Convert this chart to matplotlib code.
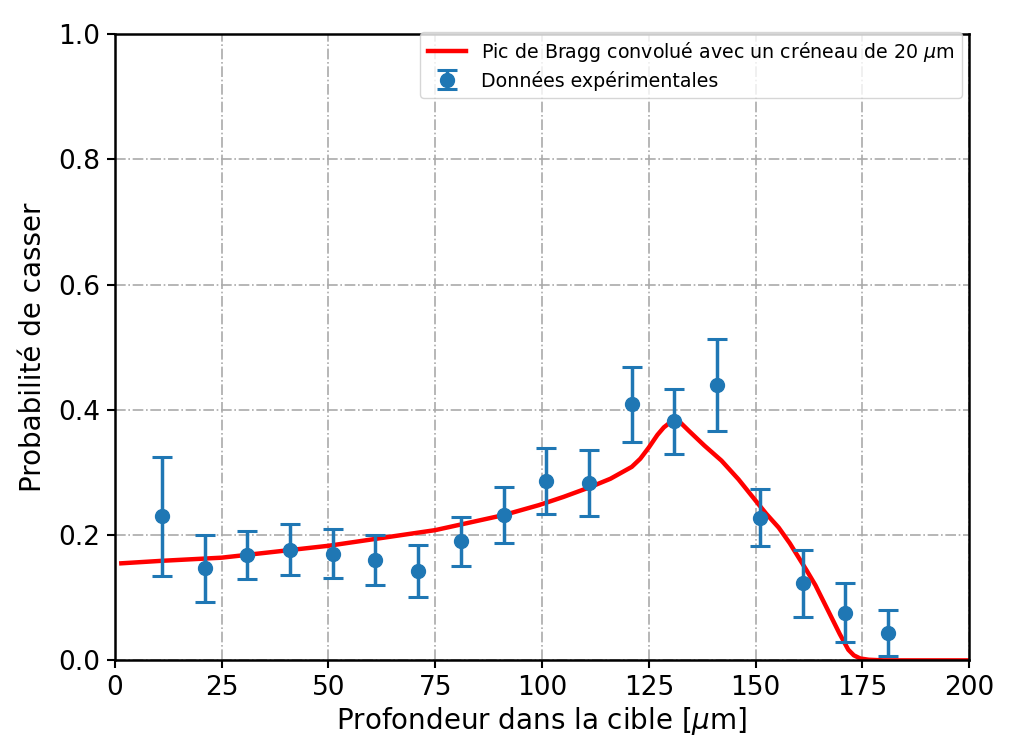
import matplotlib
matplotlib.use("Agg")
import matplotlib.pyplot as plt

# experimental points
depth = [11, 21, 31, 41, 51, 61, 71, 81, 91, 101, 111, 121, 131, 141, 151, 161, 171, 181]
prob = [0.230, 0.147, 0.168, 0.177, 0.170, 0.160, 0.143, 0.190, 0.232, 0.286, 0.283,
        0.409, 0.382, 0.440, 0.228, 0.123, 0.076, 0.044]
prob_err = [0.095, 0.053, 0.038, 0.040, 0.039, 0.040, 0.042, 0.039, 0.045, 0.053, 0.053,
            0.060, 0.052, 0.073, 0.046, 0.054, 0.047, 0.037]

# convolved Bragg peak
curve_x = [1.5, 11, 25, 50, 75, 91, 99.3, 105, 111, 116, 121, 123, 125, 127, 128.5, 130,
           131.2, 132.5, 134.3, 138, 142, 146, 150, 152.5, 155.4, 158, 160, 162, 164, 167,
           169.7, 171.7, 173, 174.5, 176.5, 180, 200]
curve_y = [0.155, 0.159, 0.164, 0.183, 0.208, 0.232, 0.248, 0.261, 0.276, 0.290, 0.309,
           0.322, 0.340, 0.360, 0.372, 0.380, 0.383, 0.379, 0.367, 0.343, 0.319, 0.289,
           0.255, 0.234, 0.212, 0.187, 0.165, 0.143, 0.120, 0.079, 0.042, 0.017, 0.008,
           0.003, 0.001, 0.0, 0.0]

fig, ax = plt.subplots(figsize=(10.17, 7.42), dpi=100)
fig.subplots_adjust(left=0.113, right=0.953, bottom=0.11, top=0.954)

ax.plot(curve_x, curve_y, color="red", lw=3.2,
        label=r"Pic de Bragg convolué avec un créneau de 20 $\mu$m")
ax.errorbar(depth, prob, yerr=prob_err, fmt="o", color="#1f77b4", ms=10,
            elinewidth=2.5, capsize=7, capthick=2.2, label="Données expérimentales")

ax.set_xlim(0, 200)
ax.set_ylim(0, 1.0)
ax.set_xticks([0, 25, 50, 75, 100, 125, 150, 175, 200])
ax.set_yticks([0.0, 0.2, 0.4, 0.6, 0.8, 1.0])
ax.grid(True, color="#aaaaaa", linestyle="-.", linewidth=1.2)
ax.set_axisbelow(True)
ax.tick_params(labelsize=19, width=1.5, length=6, pad=4.5)
for s in ax.spines.values():
    s.set_linewidth(1.8)

ax.set_xlabel(r"Profondeur dans la cible [$\mu$m]", fontsize=20, labelpad=3)
ax.set_ylabel("Probabilité de casser", fontsize=20, labelpad=8)
ax.legend(loc="upper right", bbox_to_anchor=(0.9915, 1.003), borderaxespad=0,
          fontsize=13.7, labelspacing=0.35)

fig.savefig("out.png", dpi=100)
